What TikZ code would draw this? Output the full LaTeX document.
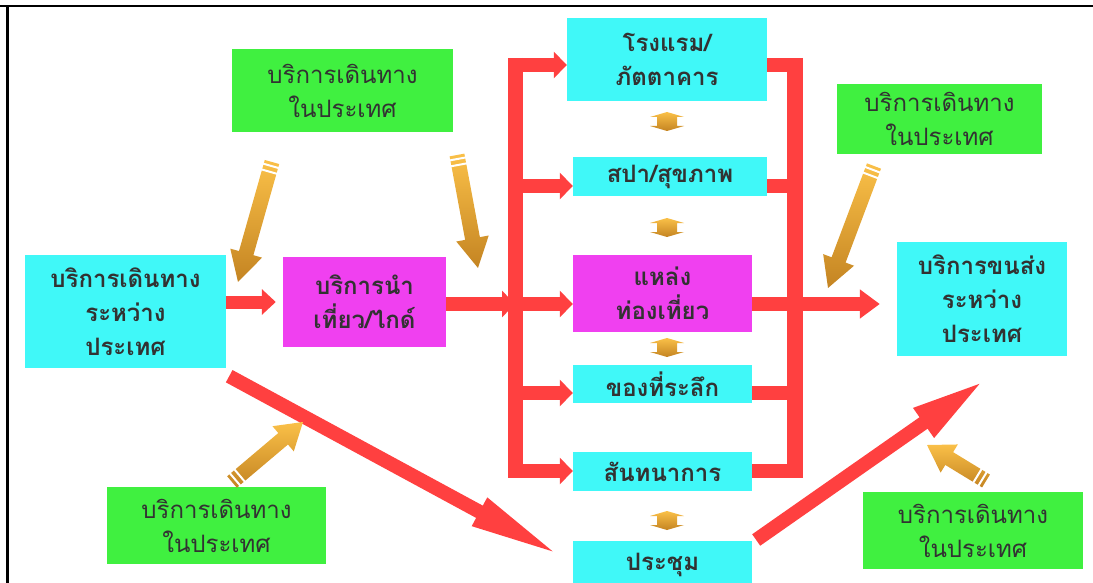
\documentclass[tikz,border=0pt]{standalone}
\usepackage{fontspec}
\newfontfamily\thai[Script=Thai]{Loma}
\usetikzlibrary{arrows.meta,calc}
\definecolor{bcyan}{RGB}{64,248,248}
\definecolor{bmag}{RGB}{240,64,240}
\definecolor{bgreen}{RGB}{64,240,64}
\definecolor{bred}{RGB}{255,64,64}
\definecolor{olight}{RGB}{250,192,72}
\definecolor{odark}{RGB}{196,132,34}
\definecolor{txt}{RGB}{50,50,50}
\newcommand\orarrow[5]{%
 \pgfmathsetmacro\oang{atan2(-(#4-#2),#3-#1)}%
 \pgfmathsetmacro\olen{veclen(#3-#1,#4-#2)}%
 \pgfmathsetmacro\obase{\olen-#5}%
 \begin{scope}[shift={(#1,#2)},rotate=\oang,y=1pt]
  \shade[top color=olight,bottom color=odark] (0,-7.5) -- (\obase,-7.5) -- (\obase,-16.5) -- (\olen,0) -- (\obase,16.5) -- (\obase,7.5) -- (0,7.5) -- cycle;
  \fill[white] (3,-8.5) rectangle (5,8.5);
  \fill[white] (9,-8.5) rectangle (11,8.5);
 \end{scope}}
\begin{document}
\begin{tikzpicture}[x=1pt,y=-1pt,
 box/.style={inner sep=0pt, align=center, text=txt, font=\thai\bfseries\fontsize{24}{34}\selectfont},
 gbox/.style={box, fill=bgreen, font=\thai\fontsize{24}{34}\selectfont},
 cbox/.style={box, fill=bcyan},
 mbox/.style={box, fill=bmag},
 redline/.style={draw=bred, line width=14pt},
 redarrow/.style={redline, -{Triangle[length=13pt,width=26pt]}},
 smallarrow/.style={top color=olight, bottom color=odark}
]
\useasboundingbox (0,0) rectangle (1093,583);
% frame
\draw[line width=2.5pt] (0,6) -- (1093,6);
\draw[line width=3pt] (7.5,6) -- (7.5,583);

% boxes
\node[cbox, minimum width=201pt, minimum height=113pt] (intl) at (125.5,311.5) {บริการเดินทาง\\ระหว่าง\\ประเทศ};
\node[mbox, minimum width=163pt, minimum height=90pt] (guide) at (364.5,302) {บริการนำ\\เที่ยว/ไกด์};
\node[gbox, minimum width=221pt, minimum height=83pt] (dom1) at (342.5,90.5) {บริการเดินทาง\\ในประเทศ};
\node[cbox, minimum width=200pt, minimum height=83pt] (hotel) at (667,59.5) {โรงแรม/\\ภัตตาคาร};
\node[cbox, minimum width=194pt, minimum height=39pt] (spa) at (670,176.5) {สปา/สุขภาพ};
\node[mbox, minimum width=179pt, minimum height=77pt] (attr) at (662.5,293.5) {แหล่ง\\ท่องเที่ยว};
\node[cbox, minimum width=179pt, minimum height=38pt] (souv) at (662.5,384) {ของที่ระลึก};
\node[cbox, minimum width=179pt, minimum height=39pt] (recr) at (662.5,471.5) {สันทนาการ};
\node[cbox, minimum width=179pt, minimum height=48pt] (meet) at (662.5,565) {ประชุม};
\node[gbox, minimum width=205pt, minimum height=70pt] (dom2) at (939.5,119) {บริการเดินทาง\\ในประเทศ};
\node[cbox, minimum width=170pt, minimum height=114pt] (trans) at (982,299) {บริการขนส่ง\\ระหว่าง\\ประเทศ};
\node[gbox, minimum width=219pt, minimum height=77pt] (dom3) at (216.5,525.5) {บริการเดินทาง\\ในประเทศ};
\node[gbox, minimum width=220pt, minimum height=77pt] (dom4) at (973,530.5) {บริการเดินทาง\\ในประเทศ};

% red trunks
\coordinate (yhotel) at (0,65);
\coordinate (yspa) at (0,186);
\coordinate (yattr) at (0,304);
\coordinate (ysouv) at (0,393);
\coordinate (yrecr) at (0,471);
\coordinate (ltrunk) at (515,0);
\coordinate (rtrunk) at (795,0);
\draw[redline, line width=15pt] (515,58) -- (515,478);
\draw[redline, line width=16pt] (795,58) -- (795,478);
\foreach \n in {hotel,spa,attr,souv,recr}{
  \draw[redarrow] (ltrunk |- y\n) -- (\n.west |- y\n);
  \draw[redline] (\n.east |- y\n) -- (rtrunk |- y\n);
}
\draw[redline, line width=13pt, -{Triangle[length=14pt,width=25pt]}] (intl.east |- 0,302) -- ([xshift=-7]guide.west |- 0,302);
\draw[redarrow] (guide.east |- yattr) -- (ltrunk |- yattr);
\draw[redline, -{Triangle[length=20pt,width=28pt]}] (rtrunk |- yattr) -- ([xshift=-17]trans.west |- yattr);
% diagonals
\coordinate (dtip1) at (563,557);
\coordinate (dtip2) at (985,380);
\draw[redline, -{Triangle[length=95pt,width=28pt]}] ([shift={(3,8)}]intl.south east) -- (dtip1);
\draw[redline, -{Triangle[length=75pt,width=32pt]}] ([shift={(4,-25)}]meet.east) -- (dtip2);

% small double arrows
\foreach \yy in {121.5,227.5,347.5,520.5}{
  \shade[smallarrow] (667,\yy) ++(0,-9.5) -- ++(17,5) -- ++(-7,0) -- ++(0,9) -- ++(7,0) -- ++(-17,5) -- ++(-17,-5) -- ++(7,0) -- ++(0,-9) -- ++(-7,0) -- cycle;
}
% orange arrows
\orarrow{272}{162}{238}{282}{30}
\orarrow{457}{155}{478}{268}{30}
\orarrow{874}{166}{828}{288}{30}
\orarrow{232}{482}{303}{422}{26}
\orarrow{986}{481}{927}{445}{26}
\end{tikzpicture}
\end{document}
